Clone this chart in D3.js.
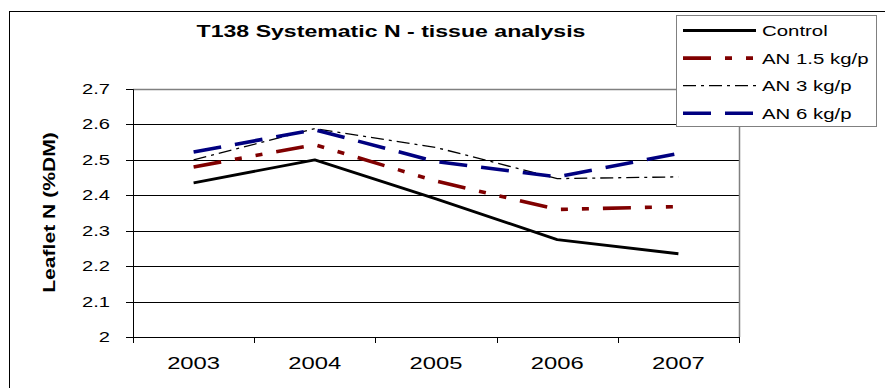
<!DOCTYPE html>
<html>
<head>
<meta charset="utf-8">
<script src="https://cdn.jsdelivr.net/npm/d3@7"></script>
<style>
  body { margin: 0; background: #fff; }
  svg { display: block; font-family: "Liberation Sans", Arial, sans-serif; }
</style>
</head>
<body>
<svg id="chart" width="885" height="388"></svg>
<script>
// data
const years = ["2003", "2004", "2005", "2006", "2007"];
const control = [2.435, 2.50, 2.39, 2.275, 2.235];
const an15 = [2.48, 2.543, 2.44, 2.36, 2.368];
const an3 = [2.50, 2.588, 2.535, 2.447, 2.452];
const an6 = [2.522, 2.585, 2.495, 2.452, 2.518];
const yTicks = [2, 2.1, 2.2, 2.3, 2.4, 2.5, 2.6, 2.7];
const seriesNames = ["Control", "AN 1.5 kg/p", "AN 3 kg/p", "AN 6 kg/p"];

const styles = [
  {color: "#000000", width: 2.8, dash: null},
  {color: "#800000", width: 3.6, dash: "28,14,7,14,7,14"},
  {color: "#000000", width: 1.3, dash: "13,5,3,5"},
  {color: "#000080", width: 3.6, dash: "28,14"}
];

const series = [control, an15, an3, an6].map((vals, i) => ({
  name: seriesNames[i],
  values: vals,
  style: styles[i]
}));

const svg = d3.select("#chart");

// text in this chart is drawn wide, so stretch it along its reading direction
function stretched(sel, x, y, sx, rot) {
  sel.attr("x", 0).attr("y", 0)
     .attr("transform", `translate(${x},${y})` + (rot ? ` rotate(${rot})` : "") + ` scale(${sx},1)`);
  return sel;
}

const plotLeft = 133, plotRight = 739, plotTop = 89, plotBottom = 337;

const x = d3.scaleBand().domain(years).range([plotLeft, plotRight]);
const y = d3.scaleLinear().domain([2, 2.7]).range([plotBottom, plotTop]);
// rounded copy so grid and ticks land on whole pixels
const yr = y.copy().interpolate(d3.interpolateRound);

// outer chart frame (runs off the picture on the right and bottom)
svg.append("rect")
    .attr("x", 9.5).attr("y", 11.5)
    .attr("width", 900).attr("height", 400)
    .attr("fill", "none")
    .attr("stroke", "#000")
    .attr("stroke-width", 1);

// gridlines
svg.append("g")
    .attr("transform", `translate(${plotLeft},0)`)
    .call(d3.axisLeft(yr).tickValues(yTicks.slice(1, -1)).tickSize(-(plotRight - plotLeft)).tickFormat(""))
    .call(g => g.select(".domain").remove())
    .call(g => g.selectAll("line").attr("stroke", "#000"));

// plot area border, top and right in grey
svg.append("path")
    .attr("d", `M${plotLeft},${yr(2.7) + 0.5}H${plotRight + 0.5}V${plotBottom}`)
    .attr("fill", "none")
    .attr("stroke", "#808080")
    .attr("stroke-width", 1.5);

// y axis
svg.append("g")
    .attr("transform", `translate(${plotLeft},0)`)
    .call(d3.axisLeft(yr).tickValues(yTicks).tickSize(7).tickFormat(d => String(d)))
    .call(g => g.select(".domain").attr("stroke", "#000"))
    .call(g => g.selectAll("line").attr("stroke", "#000"))
    .call(g => g.selectAll("text")
        .attr("font-size", 14)
        .attr("fill", "#000")
        .attr("x", -23 / 1.44)
        .attr("transform", "scale(1.44,1)"));

// x axis: labels at band centres, ticks at band edges
svg.append("g")
    .attr("class", "xaxis")
    .attr("transform", `translate(0,${plotBottom})`)
    .call(d3.axisBottom(x).tickSize(0).tickPadding(0))
    .call(g => g.select(".domain").remove())
    .call(g => g.selectAll("text")
        .attr("font-size", 17)
        .attr("fill", "#000")
        .attr("dy", 0)
        .attr("y", 32)
        .attr("x", 0)
        .attr("transform", "scale(1.4,1)"));

const edges = years.map(d => x(d)).concat([plotRight]);
svg.append("g")
    .selectAll("line")
    .data(edges)
    .join("line")
    .attr("x1", d => Math.round(d) + 0.5)
    .attr("x2", d => Math.round(d) + 0.5)
    .attr("y1", plotBottom)
    .attr("y2", plotBottom + 6)
    .attr("stroke", "#000");
svg.append("line")
    .attr("x1", plotLeft).attr("x2", plotRight + 1)
    .attr("y1", plotBottom + 0.5).attr("y2", plotBottom + 0.5)
    .attr("stroke", "#000");

// series lines
const line = d3.line()
    .x((d, i) => x(years[i]) + x.bandwidth() / 2)
    .y(d => y(d));

svg.append("g")
    .selectAll("path")
    .data(series)
    .join("path")
    .attr("d", d => line(d.values))
    .attr("fill", "none")
    .attr("stroke", d => d.style.color)
    .attr("stroke-width", d => d.style.width)
    .attr("stroke-dasharray", d => d.style.dash)
    .attr("stroke-linejoin", "round");

// title
stretched(svg.append("text"), 391, 36.7, 1.4)
    .attr("text-anchor", "middle")
    .attr("font-size", 16.5)
    .attr("font-weight", "bold")
    .text("T138 Systematic N - tissue analysis");

// y axis title
stretched(svg.append("text"), 55, 212.5, 1.32, -90)
    .attr("text-anchor", "middle")
    .attr("font-size", 16)
    .attr("font-weight", "bold")
    .text("Leaflet N (%DM)");

// legend
const legend = svg.append("g");
legend.append("rect")
    .attr("x", 676.5).attr("y", 15.5)
    .attr("width", 200).attr("height", 111)
    .attr("fill", "#fff")
    .attr("stroke", "#808080");

const rows = legend.selectAll("g.row")
    .data(series)
    .join("g")
    .attr("class", "row")
    .attr("transform", (d, i) => `translate(0,${30.5 + i * 27.6})`);

rows.append("line")
    .attr("x1", 683).attr("x2", 756)
    .attr("stroke", d => d.style.color)
    .attr("stroke-width", d => d.style.width)
    .attr("stroke-dasharray", d => d.style.dash);

rows.append("text")
    .each(function() { stretched(d3.select(this), 762, 5.5, 1.36); })
    .attr("font-size", 15)
    .text(d => d.name);
</script>
</body>
</html>
